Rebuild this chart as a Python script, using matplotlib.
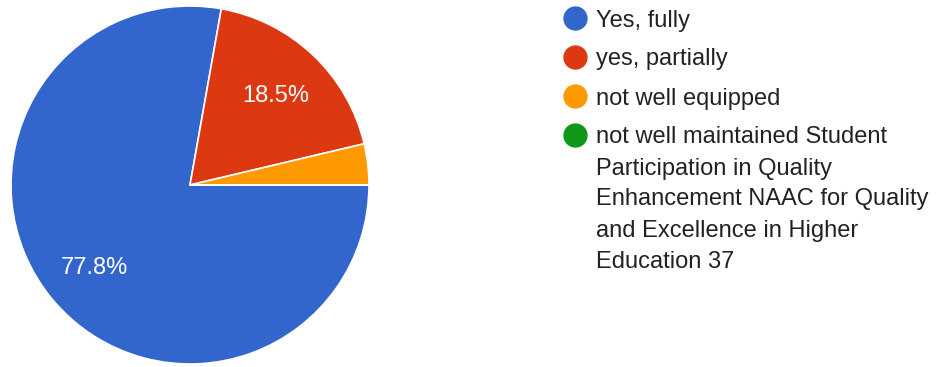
import matplotlib
matplotlib.use("Agg")
import matplotlib.pyplot as plt

categories = ["Yes, fully", "yes, partially", "not well equipped",
              "not well maintained Student\nParticipation in Quality\nEnhancement NAAC for Quality\nand Excellence in Higher\nEducation 37"]
values = [77.8, 18.5, 3.7, 0.0]
colors = ["#3366cc", "#dc3912", "#ff9900", "#109618"]

plt.rcParams['font.family'] = ['Liberation Sans', 'DejaVu Sans']

fig = plt.figure(figsize=(9.39, 3.67), dpi=100)
ax = fig.add_axes([11 / 939, 3 / 367, 358 / 939, 358 / 367])

def fmt(p):
    return f"{p:.1f}%" if p >= 5 else ""

wedges, texts, autotexts = ax.pie(
    values, colors=colors, startangle=0, counterclock=False,
    autopct=fmt, pctdistance=0.70,
    wedgeprops=dict(edgecolor="white", linewidth=1.2),
    textprops=dict(color="white", fontsize=17))
for t in autotexts:
    t.set_va("center_baseline")
ax.set_xlim(-1, 1)
ax.set_ylim(-1, 1)
ax.set_aspect("equal")

# legend drawn manually
W, H = 939, 367
y_px = [18, 57, 96, 135]
line_h = 31
for cat, col, y in zip(categories, colors, y_px):
    fig.lines.append(plt.Line2D([575 / W], [1 - y / H], marker="o", markersize=16.5,
                                color=col, transform=fig.transFigure, linestyle="none"))
    for i, line in enumerate(cat.split("\n")):
        fig.text(596 / W, 1 - (y + 8.5 + i * line_h) / H, line, fontsize=17,
                 color="#222222", va="baseline", ha="left")

fig.savefig("out.png", dpi=100)
